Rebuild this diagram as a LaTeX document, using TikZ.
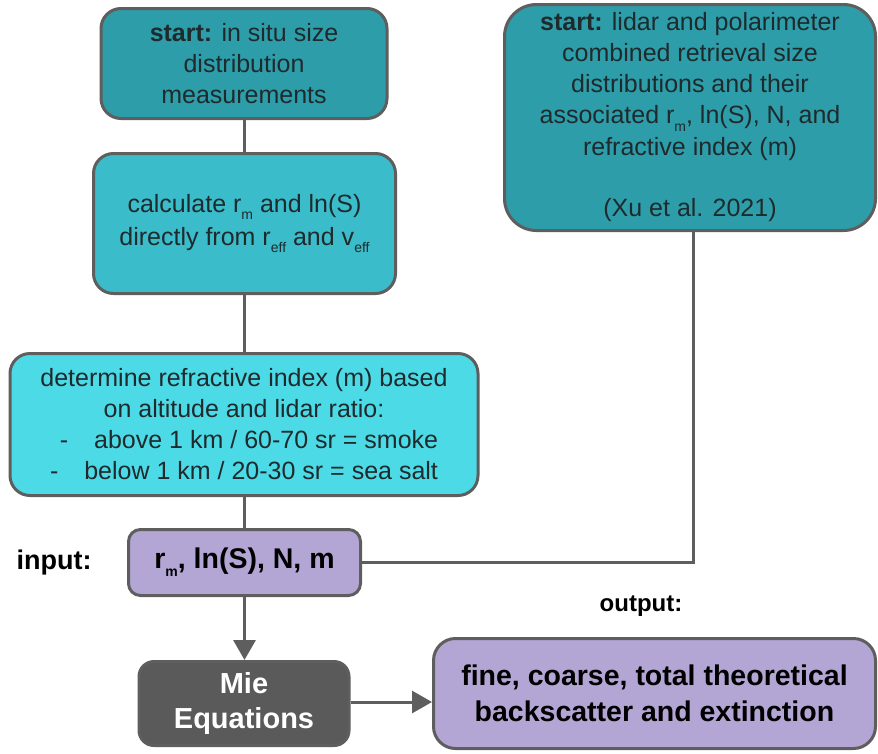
\documentclass[tikz,border=0pt]{standalone}
\usepackage{fontspec}
\setmainfont{Liberation Sans}
\usetikzlibrary{arrows.meta}
\definecolor{tealdark}{HTML}{2E9DAA}
\definecolor{tealmid}{HTML}{3BBCCB}
\definecolor{teallight}{HTML}{4DDAE7}
\definecolor{lavender}{HTML}{B3A6D5}
\definecolor{miegray}{HTML}{5A5A5A}
\definecolor{edgegray}{HTML}{5E5E5E}
\definecolor{txtdark}{HTML}{1E2A2C}
\newcommand\lowsub[1]{\raisebox{-0.55ex}{\fontsize{14}{14}\selectfont #1}}
\tikzset{
  box/.style={draw=edgegray, line width=3pt, rounded corners=20pt, align=center,
    inner sep=0pt, text=txtdark, font=\fontsize{25}{31}\selectfont},
  conn/.style={draw=edgegray, line width=3pt},
  arr/.style={conn, -{Triangle[length=20pt,width=22pt]}},
  lbl/.style={font=\bfseries, text=black}
}
\begin{document}
\begin{tikzpicture}[x=1pt,y=-1pt]
\useasboundingbox (0,0) rectangle (878,753);
\node[box, fill=tealdark, minimum width=286pt, minimum height=110pt] (A) at (244,63.5)
  {\textbf{start:} in situ size\\distribution\\measurements};
\node[box, fill=tealmid, minimum width=302pt, minimum height=140pt] (B) at (244.5,223.5)
  {calculate r\lowsub{m} and ln(S)\\[2pt]directly from r\lowsub{eff} and v\lowsub{eff}};
\node[box, fill=teallight, minimum width=468pt, minimum height=142pt] (C) at (244,424.5)
  {determine refractive index (m) based\\on altitude and lidar ratio:\\
   \hspace*{10pt}-\hspace{26pt}above 1 km / 60-70 sr = smoke\\
   -\hspace{26pt}below 1 km / 20-30 sr = sea salt};
\node[box, fill=lavender, rounded corners=12pt, minimum width=232pt, minimum height=66pt,
  font=\fontsize{28.5}{31}\selectfont\bfseries, text=black] (D) at (244.5,562.5)
  {r\lowsub{m}, ln(S), N, m};
\node[box, fill=miegray, rounded corners=15pt, minimum width=210pt, minimum height=84pt,
  font=\fontsize{29}{35}\selectfont\bfseries, text=white] (E) at (244,703.5)
  {Mie\\Equations};
\node[box, fill=lavender, rounded corners=22pt, minimum width=442pt, minimum height=110pt,
  font=\fontsize{28.5}{36}\selectfont\bfseries, text=black] (F) at (654.5,693.5)
  {fine, coarse, total theoretical\\backscatter and extinction};
\node[box, fill=tealdark, rounded corners=32pt, minimum width=371pt, minimum height=226pt] (G) at (690,117.5)
  {\textbf{start:} lidar and polarimeter\\combined retrieval size\\distributions and their\\
   associated r\lowsub{m}, ln(S), N, and\\[1pt]refractive index (m)\\[30pt](Xu et al. 2021)};
\node[lbl, font=\fontsize{27}{31}\selectfont\bfseries] (inlbl) at (54,563) {input:};
\node[lbl, font=\fontsize{24}{28}\selectfont\bfseries] (outlbl) at (641,606) {output:};
\draw[conn] (A.south) -- (A.south |- B.north);
\draw[conn] (B.south) -- (B.south |- C.north);
\draw[conn] (C.south) -- (C.south |- D.north);
\draw[arr] (D.south) -- (D.south |- E.north);
\draw[arr] ([yshift=1.5pt]E.east) -- ([yshift=1.5pt]E.east -| F.west);
\draw[conn] ([xshift=3pt]G.south) |- (D.east);
\end{tikzpicture}
\end{document}
